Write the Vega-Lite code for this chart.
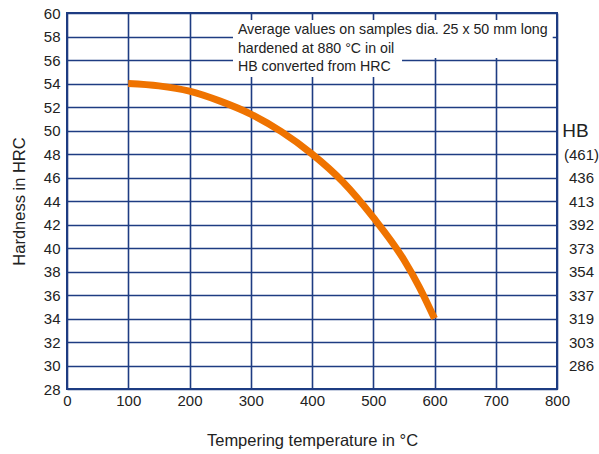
{
  "$schema": "https://vega.github.io/schema/vega-lite/v6.json",
  "width": 490,
  "height": 376,
  "autosize": {"type": "none"},
  "padding": {"left": 67, "top": 13, "right": 42, "bottom": 65},
  "background": "white",
  "config": {
    "view": {"stroke": "#1e3c82", "strokeWidth": 2},
    "font": "Liberation Sans",
    "axis": {"labelColor": "#222222", "titleColor": "#222222", "titleFontWeight": "normal", "labelOverlap": false, "labelFlush": false, "labelBound": false}
  },
  "datasets": {
    "curve": [
      {"temp": 100, "hrc": 54.0},
      {"temp": 150, "hrc": 53.8},
      {"temp": 200, "hrc": 53.35},
      {"temp": 250, "hrc": 52.5},
      {"temp": 300, "hrc": 51.4},
      {"temp": 350, "hrc": 49.9},
      {"temp": 400, "hrc": 48.0},
      {"temp": 450, "hrc": 45.65},
      {"temp": 500, "hrc": 42.6},
      {"temp": 550, "hrc": 39.0},
      {"temp": 575, "hrc": 36.7},
      {"temp": 600, "hrc": 34.0}
    ],
    "note": [
      {"text": "Average values on samples dia. 25 x 50 mm long\nhardened at 880 °C in oil\nHB converted from HRC"}
    ]
  },
  "layer": [
    {
      "layer": [
        {
          "data": {"name": "curve"},
          "mark": {"type": "line", "color": "#ef7300", "strokeWidth": 7, "strokeCap": "butt", "interpolate": "monotone"},
          "encoding": {
            "x": {
              "field": "temp", "type": "quantitative",
              "scale": {"domain": [0, 800], "nice": false},
              "axis": {
                "values": [0, 100, 200, 300, 400, 500, 600, 700, 800],
                "tickCount": 20,
                "grid": true, "gridColor": "#1e3c82", "gridWidth": 1.6, "gridOpacity": 1,
                "domain": false, "ticks": false,
                "labelFontSize": 15, "labelPadding": 4,
                "title": "Tempering temperature in °C", "titleFontSize": 16.5, "titlePadding": 24
              }
            },
            "y": {
              "field": "hrc", "type": "quantitative",
              "scale": {"domain": [28, 60], "nice": false},
              "axis": {
                "values": [28, 30, 32, 34, 36, 38, 40, 42, 44, 46, 48, 50, 52, 54, 56, 58, 60],
                "tickCount": 40,
                "grid": true, "gridColor": "#1e3c82", "gridWidth": 1.6, "gridOpacity": 1,
                "domain": false, "ticks": false,
                "labelFontSize": 15, "labelPadding": 7,
                "title": "Hardness in HRC", "titleFontSize": 16.5, "titlePadding": 16
              }
            }
          }
        },
        {
          "data": {"name": "note"},
          "mark": {"type": "rect", "color": "white"},
          "encoding": {
            "x": {"datum": 271, "type": "quantitative"},
            "x2": {"datum": 793},
            "y": {"datum": 59.4, "type": "quantitative"},
            "y2": {"datum": 56.17}
          }
        },
        {
          "data": {"name": "note"},
          "mark": {"type": "rect", "color": "white"},
          "encoding": {
            "x": {"datum": 271, "type": "quantitative"},
            "x2": {"datum": 547},
            "y": {"datum": 56.17, "type": "quantitative"},
            "y2": {"datum": 54.55}
          }
        },
        {
          "data": {"name": "note"},
          "mark": {"type": "text", "align": "left", "baseline": "middle", "fontSize": 14.2, "lineHeight": 18.6, "lineBreak": "\n", "color": "#222222"},
          "encoding": {
            "x": {"datum": 279, "type": "quantitative"},
            "y": {"datum": 58.55, "type": "quantitative"},
            "text": {"field": "text"}
          }
        }
      ]
    },
    {
      "data": {"name": "curve"},
      "mark": {"type": "line", "opacity": 0},
      "encoding": {
        "x": {"field": "temp", "type": "quantitative"},
        "y": {
          "field": "hrc", "type": "quantitative",
          "scale": {"domain": [28, 60], "nice": false},
          "axis": {
            "orient": "right",
            "values": [30, 32, 34, 36, 38, 40, 42, 44, 46, 48, 50],
            "tickCount": 40,
            "labelExpr": "{'50':'HB','48':'(461)','46':'436','44':'413','42':'392','40':'373','38':'354','36':'337','34':'319','32':'303','30':'286'}[datum.label]",
            "grid": false, "domain": false, "ticks": false,
            "labelAlign": "center",
            "labelFontSize": {"condition": {"test": "datum.value == 50", "value": 19}, "value": 15},
            "labelPadding": {"condition": {"test": "datum.value == 50", "value": 18}, "value": 24},
            "title": null
          }
        }
      }
    }
  ],
  "resolve": {"scale": {"y": "independent"}, "axis": {"y": "independent"}}
}
